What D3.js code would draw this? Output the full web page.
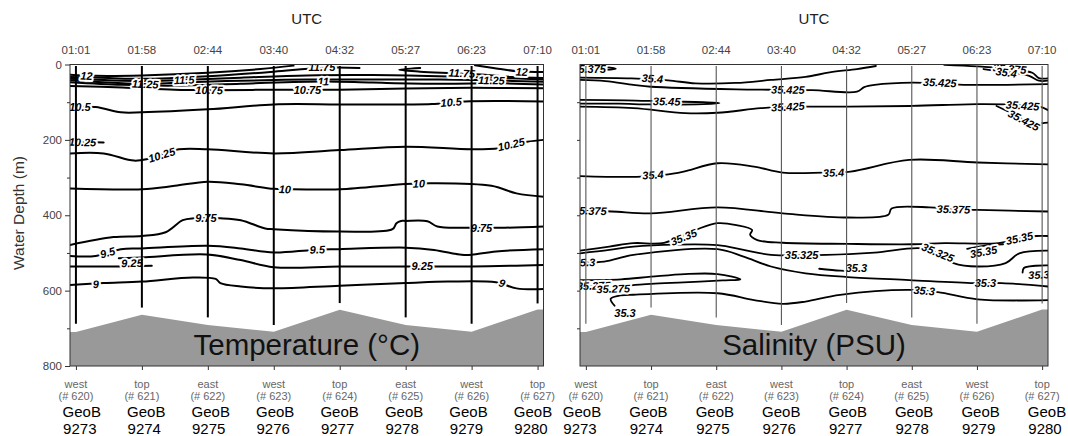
<!DOCTYPE html>
<html>
<head>
<meta charset="utf-8">
<script src="https://cdn.jsdelivr.net/npm/d3@7"></script>
<style>
  body { margin: 0; background: #fff; }
  svg { display: block; font-family: "Liberation Sans", Arial, sans-serif; }
  .iso { fill: none; stroke: #000; stroke-linejoin: round; stroke-linecap: round; }
  .lab { font-style: italic; font-weight: bold; font-size: 11px; fill: #000;
         paint-order: stroke; stroke: #fff; stroke-width: 4px; stroke-linejoin: round; }
  .axis path, .axis line { stroke: #333; }
  .axis text { fill: #444; font-size: 11.5px; font-family: "Liberation Sans", Arial, sans-serif; }
</style>
</head>
<body>
<div id="chart"></div>
<script>
//----------------------------DATA------------------------------//
const utcTimes = ["01:01", "01:58", "02:44", "03:40", "04:32", "05:27", "06:23", "07:10"];
const stationSide = ["west", "top", "east", "west", "top", "east", "west", "top"];
const castNumbers = ["620", "621", "622", "623", "624", "625", "626", "627"];
const geobNumbers = ["9273", "9274", "9275", "9276", "9277", "9278", "9279", "9280"];
const seafloorDepth = [710, 664, 691, 709, 651, 691, 709, 650];
const castDepth = [688, 645, 671, 691, 633, 671, 688, 634];
const depthMajor = [0, 200, 400, 600, 800];
const depthMinor = [100, 300, 500, 700];

// isolines: [value, [[station index, depth m], ...]]
const tempIsolines = [
  [12, [[-0.09, 27], [0.3, 30], [1, 29], [2, 22], [2.8, 12], [3.3, 3]]],
  [12, [[6.05, 2], [6.4, 11], [6.7, 18], [7.09, 20]]],
  [11.75, [[-0.09, 33], [0.5, 36], [1, 38], [2, 31], [3, 19], [3.7, 9], [4.3, 9]]],
  [11.75, [[5.22, 9], [4.9, 14], [5.22, 19], [5.7, 23], [6.2, 27], [6.6, 33], [7.09, 36]]],
  [11.5, [[-0.09, 38], [1, 44], [1.6, 41], [2.5, 35], [3.5, 29], [4.5, 28], [5.5, 31], [6.5, 36], [7.09, 40]]],
  [11.25, [[-0.09, 42], [0.5, 48], [1.05, 52], [1.6, 48], [2.5, 43], [3.5, 40], [4.5, 40], [5.5, 40], [6.3, 42], [7.09, 46]]],
  [11, [[-0.09, 47], [0.7, 54], [1.5, 56], [2.5, 51], [3.75, 45], [4.5, 48], [5.5, 51], [6.5, 50], [7.09, 53]]],
  [10.75, [[-0.09, 57], [0.7, 61], [1.5, 67], [2.02, 68], [3, 67], [4, 67], [5, 64], [6, 62], [7.09, 63]]],
  [10.5, [[-0.09, 113], [0.3, 113], [0.68, 127], [1, 127], [2, 119], [3, 106], [4, 106], [5, 106], [5.4, 105], [5.9, 98], [7.09, 98]]],
  [10.25, [[-0.09, 205], [0.2, 206], [0.42, 207]]],
  [10.25, [[-0.09, 236], [0.42, 236], [0.88, 255], [1.1, 250], [1.56, 225], [2, 225], [3, 236], [4, 227], [5, 218], [6, 225], [6.42, 222], [6.84, 205], [7.09, 200]]],
  [10, [[-0.09, 329], [1, 331], [1.5, 322], [2, 311], [2.5, 318], [3, 330], [3.2, 331], [4, 331], [5, 317], [5.4, 315], [6.3, 322], [6.68, 342], [7.09, 351]]],
  [9.75, [[-0.09, 479], [0.57, 458], [1, 455], [1.36, 445], [1.62, 413], [1.8, 408], [2.19, 408], [2.5, 413], [2.87, 435], [3, 437], [4, 443], [4.8, 437], [4.86, 421], [4.93, 415], [5, 415], [5.33, 416], [5.48, 430], [6, 433], [6.5, 433], [7.09, 430]]],
  [9.5, [[-0.09, 508], [0.3, 508], [0.68, 490], [1, 488], [2, 481], [2.5, 488], [3, 499], [3.6, 492], [4, 490], [5, 486], [5.43, 492], [5.85, 505], [6, 505], [6.37, 496], [7.09, 490]]],
  [9.25, [[-0.09, 536], [0.6, 536], [1.15, 534]]],
  [9.25, [[0.65, 514], [1, 512], [1.98, 504], [2.5, 519], [3, 538], [4, 536], [5, 536], [6, 536], [7.09, 532]]],
  [9, [[-0.09, 585], [0.42, 580], [1, 576], [1.77, 565], [2.12, 569], [2.19, 580], [2.5, 589], [3, 594], [4, 587], [5, 580], [5.64, 576], [6.37, 578], [6.68, 594], [7.09, 596]]]
];
// labels: [text, station index, depth m]
const tempLabels = [
  ["12", 0.16, 30], ["12", 6.76, 19], ["11.75", 3.73, 8], ["11.75", 5.85, 23],
  ["11.5", 1.64, 41], ["11.25", 1.05, 52], ["11.25", 6.3, 42], ["11", 3.75, 45],
  ["10.75", 2.02, 68], ["10.75", 3.51, 67], ["10.5", 0.06, 113], ["10.5", 5.69, 100],
  ["10.25", 0.1, 206], ["10.25", 1.3, 240], ["10.25", 6.6, 212],
  ["10", 3.17, 331], ["10", 5.2, 316], ["9.75", 1.97, 408], ["9.75", 6.15, 433],
  ["9.5", 0.48, 499], ["9.5", 3.66, 491], ["9.25", 0.85, 527], ["9.25", 5.25, 536],
  ["9", 0.3, 583], ["9", 6.46, 580]
];

const salIsolines = [
  [35.375, [[-0.09, 5], [0.3, 7], [0.46, 11], [0.3, 14], [-0.09, 14]]],
  [35.4, [[-0.09, 35], [0.7, 37], [1.26, 42], [1.68, 50], [2.3, 49], [2.84, 41], [3.37, 33], [3.74, 21], [4.16, 12], [4.45, 4]]],
  [35.375, [[5.5, 1], [6, 5], [6.5, 12], [6.85, 22], [6.95, 36], [7.09, 37]]],
  [35.4, [[6.1, 12], [6.45, 20], [6.8, 30], [6.95, 43], [7.09, 43]]],
  [35.425, [[-0.09, 41], [0.3, 44], [0.73, 54], [1, 59], [2.31, 66], [2.84, 67], [3.47, 68], [4.16, 72], [4.27, 60], [4.43, 54], [5.02, 48], [5.8, 54], [7.09, 52]]],
  [35.45, [[-0.09, 94], [0.6, 95], [1.24, 98], [1.8, 100], [2.05, 102], [1.8, 105], [1, 106], [0.5, 104], [-0.09, 104]]],
  [35.425, [[-0.09, 112], [0.73, 116], [1.52, 129], [2.02, 128], [2.68, 116], [3.1, 112], [4.02, 112], [5, 110], [6.01, 105], [6.44, 106], [6.96, 112], [7.09, 121]]],
  [35.425, [[6.3, 110], [6.6, 135], [6.9, 162], [7, 156], [7.09, 154]]],
  [35.4, [[-0.09, 296], [0.78, 298], [1.2, 293], [1.5, 284], [2.02, 262], [2.58, 271], [3.02, 287], [3.63, 287], [4.06, 284], [4.96, 253], [6.01, 260], [7.09, 265]]],
  [35.375, [[-0.09, 388], [0.4, 390], [1, 395], [2.02, 379], [3.02, 395], [4.02, 406], [4.64, 399], [4.69, 382], [5.27, 379], [5.6, 384], [6.01, 386], [7.09, 390]]],
  [35.35, [[-0.09, 494], [0.36, 483], [0.73, 474], [1.2, 473], [1.68, 439], [2.02, 421], [2.31, 426], [2.55, 439], [2.52, 452], [2.63, 466], [3.02, 473], [4.02, 476], [5.02, 477], [5.5, 474], [6.33, 474], [6.65, 462], [6.91, 455], [7.09, 455]]],
  [35.35, [[5.85, 489], [6.1, 481], [6.4, 477]]],
  [35.325, [[-0.09, 501], [0.36, 492], [0.73, 483], [2.02, 479], [2.42, 492], [2.84, 505], [3.69, 505], [4.43, 499], [5.17, 488], [5.48, 510], [5.64, 527], [6.01, 536], [6.44, 527], [6.65, 501], [7.09, 494]]],
  [35.3, [[-0.09, 525], [0.28, 523], [0.73, 505], [2.02, 490], [2.42, 510], [2.84, 536], [3.37, 554], [4.02, 564], [4.96, 572], [5.96, 580], [6.38, 580], [7.09, 589]]],
  [35.3, [[3.58, 542], [3.9, 547], [4.05, 548]]],
  [35.3, [[6.7, 552], [6.72, 540], [6.9, 534], [7.09, 533]]],
  [35.275, [[-0.09, 572], [0.54, 570], [1, 563], [1.52, 556], [2.02, 556], [2.37, 570], [2.1, 573], [1.5, 578], [1, 582], [0.6, 587], [-0.09, 590]]],
  [35.3, [[0.44, 640], [0.38, 622], [0.5, 614], [0.73, 611], [2.02, 607], [2.58, 625], [3.02, 635], [3.37, 629], [3.9, 611], [4.96, 598], [5.4, 604], [6.01, 623], [7.09, 625]]]
];
const salLabels = [
  ["35.375", 0.05, 11], ["35.4", 1.02, 37], ["35.425", 3.1, 67], ["35.425", 5.43, 48],
  ["35.375", 6.5, 11], ["35.4", 6.45, 21], ["35.45", 1.24, 98], ["35.425", 3.1, 112],
  ["35.425", 6.7, 109], ["35.425", 6.72, 148], ["35.4", 1.03, 293], ["35.4", 3.8, 287],
  ["35.375", 0.06, 388], ["35.375", 5.64, 384], ["35.35", 1.5, 458], ["35.35", 6.65, 461],
  ["35.35", 6.1, 497], ["35.325", 3.31, 505], ["35.325", 5.4, 499], ["35.3", -0.02, 525],
  ["35.3", 6.13, 580], ["35.3", 4.15, 540], ["35.3", 6.95, 558], ["35.275", 0.12, 587],
  ["35.275", 0.42, 595], ["35.3", 5.19, 600], ["35.3", 0.6, 660]
];

//----------------------------SETUP-----------------------------//
const width = 1068, height = 436;
const svg = d3.select("#chart").append("svg")
    .attr("width", width)
    .attr("height", height);

const yScale = d3.scaleLinear().domain([0, 800]).range([64.5, 366]);
const stationIdx = d3.range(8);

const panels = [
  { key: "temp", range: [70, 543.5], idRange: [81.8, 533], iso: tempIsolines, labels: tempLabels,
    title: "Temperature (°C)", castColor: "#000", castWidth: 2, isoWidth: 2, depthLabels: true },
  { key: "sal", range: [580, 1048], idRange: [582, 1047], iso: salIsolines, labels: salLabels,
    title: "Salinity (PSU)", castColor: "#555", castWidth: 1.1, isoWidth: 1.8, depthLabels: false }
];

// pick the local direction of the isoline nearest the label
function labelAngle(iso, xScale, text, s, d) {
  const v = +text;
  let best = null, bestDist = Infinity;
  iso.forEach(function (line) {
    if (line[0] !== v) return;
    const pts = line[1];
    for (let i = 0; i < pts.length - 1; i++) {
      const a = pts[i], b = pts[i + 1];
      if (a[0] === b[0] || (s - a[0]) * (s - b[0]) > 0) continue;
      const t = (s - a[0]) / (b[0] - a[0]);
      const dd = Math.abs(a[1] + t * (b[1] - a[1]) - d);
      if (dd < bestDist) { bestDist = dd; best = [a, b]; }
    }
  });
  if (!best || bestDist > 25) return 0;
  let ang = Math.atan2(yScale(best[1][1]) - yScale(best[0][1]),
                       xScale(best[1][0]) - xScale(best[0][0])) * 180 / Math.PI;
  if (ang > 90) ang -= 180;
  if (ang < -90) ang += 180;
  return Math.max(-45, Math.min(45, ang));
}

panels.forEach(function (p, pi) {
  const xScale = d3.scaleLinear().domain([-0.09, 7.09]).range(p.range);
  const idScale = d3.scaleLinear().domain([0, 7]).range(p.idRange);
  const x0 = p.range[0], x1 = p.range[1];
  const y0 = yScale(0), y1 = yScale(800);
  const cx = (x0 + x1) / 2;
  const g = svg.append("g");

  g.append("clipPath").attr("id", "clip-" + p.key)
    .append("rect").attr("x", x0).attr("y", y0).attr("width", x1 - x0).attr("height", y1 - y0);

  // seafloor
  const floorPts = [[-0.09, seafloorDepth[0]]]
      .concat(stationIdx.map(function (i) { return [i, seafloorDepth[i]]; }))
      .concat([[7.09, seafloorDepth[7]]]);
  g.append("path")
    .datum(floorPts)
    .attr("fill", "#999")
    .attr("d", d3.area()
      .x(function (d) { return xScale(d[0]); })
      .y0(yScale(800))
      .y1(function (d) { return yScale(d[1]); }));

  // isolines
  const plot = g.append("g").attr("clip-path", "url(#clip-" + p.key + ")");
  const line = d3.line()
      .x(function (d) { return xScale(d[0]); })
      .y(function (d) { return yScale(d[1]); })
      .curve(d3.curveCatmullRom.alpha(0.5));
  plot.selectAll("path.iso")
    .data(p.iso)
    .enter()
    .append("path")
    .attr("class", "iso")
    .attr("stroke-width", p.isoWidth)
    .attr("d", function (d) { return line(d[1]); });

  plot.selectAll("text.lab")
    .data(p.labels)
    .enter()
    .append("text")
    .attr("class", "lab")
    .attr("text-anchor", "middle")
    .attr("dy", "0.36em")
    .attr("transform", function (d) {
      return "translate(" + xScale(d[1]) + "," + yScale(d[2]) + ") rotate(" +
        labelAngle(p.iso, xScale, d[0], d[1], d[2]) + ")";
    })
    .text(function (d) { return d[0]; });

  // CTD casts
  g.selectAll("line.cast")
    .data(stationIdx)
    .enter()
    .append("line")
    .attr("class", "cast")
    .attr("x1", function (i) { return xScale(i); })
    .attr("x2", function (i) { return xScale(i); })
    .attr("y1", yScale(4))
    .attr("y2", function (i) { return yScale(castDepth[i]); })
    .attr("stroke", p.castColor)
    .attr("stroke-width", p.castWidth);

  // panel title
  g.append("text")
    .attr("x", cx)
    .attr("y", 355)
    .attr("text-anchor", "middle")
    .style("font-size", "29.5px")
    .style("fill", "#111")
    .text(p.title);

  // frame
  g.append("rect")
    .attr("x", x0).attr("y", y0)
    .attr("width", x1 - x0).attr("height", y1 - y0)
    .attr("fill", "none")
    .attr("stroke", "#333")
    .attr("stroke-width", 1);

  // depth axis
  if (p.depthLabels) {
    g.append("g")
      .attr("class", "axis")
      .attr("transform", "translate(" + x0 + ",0)")
      .call(d3.axisLeft(yScale).tickValues(depthMajor).tickSize(5).tickSizeOuter(0).tickPadding(3))
      .call(function (a) { a.select(".domain").remove(); });
    g.append("g")
      .attr("class", "axis")
      .attr("transform", "translate(" + x0 + ",0)")
      .call(d3.axisLeft(yScale).tickValues(depthMinor).tickSize(3).tickFormat(""))
      .call(function (a) { a.select(".domain").remove(); });
  } else {
    g.append("g")
      .attr("class", "axis")
      .attr("transform", "translate(" + x0 + ",0)")
      .call(d3.axisLeft(yScale).tickValues(depthMinor.concat([200, 400, 600])).tickSize(3).tickFormat(""))
      .call(function (a) { a.select(".domain").remove(); });
  }

  // station axis (bottom)
  g.append("g")
    .attr("class", "axis")
    .attr("transform", "translate(0," + y1 + ")")
    .call(d3.axisBottom(xScale).tickValues(stationIdx).tickSize(4).tickFormat(""))
    .call(function (a) { a.select(".domain").remove(); });

  // UTC time labels
  g.append("text")
    .attr("x", cx).attr("y", 24)
    .attr("text-anchor", "middle")
    .style("font-size", "15px")
    .style("fill", "#222")
    .text("UTC");
  g.selectAll("text.utc")
    .data(stationIdx)
    .enter()
    .append("text")
    .attr("class", "utc")
    .attr("x", function (i) { return xScale(i); })
    .attr("y", 54)
    .attr("text-anchor", "middle")
    .style("font-size", "11.5px")
    .style("fill", "#444")
    .text(function (i) { return utcTimes[i]; });

  // station labels
  const st = g.selectAll("g.station")
    .data(stationIdx)
    .enter()
    .append("g")
    .attr("class", "station");
  st.append("text")
    .attr("x", function (i) { return xScale(i); })
    .attr("y", 388)
    .attr("text-anchor", "middle")
    .style("font-size", "11px")
    .style("fill", "#666")
    .text(function (i) { return stationSide[i]; });
  st.append("text")
    .attr("x", function (i) { return xScale(i); })
    .attr("y", 399.5)
    .attr("text-anchor", "middle")
    .style("font-size", "11px")
    .style("fill", "#666")
    .text(function (i) { return "(# " + castNumbers[i] + ")"; });
  st.append("text")
    .attr("x", function (i) { return idScale(i); })
    .attr("y", 417)
    .attr("text-anchor", "middle")
    .style("font-size", "15px")
    .style("fill", "#000")
    .text("GeoB");
  st.append("text")
    .attr("x", function (i) { return idScale(i) - 2; })
    .attr("y", 434)
    .attr("text-anchor", "middle")
    .style("font-size", "15px")
    .style("fill", "#000")
    .text(function (i) { return geobNumbers[i]; });
});

// depth axis title
svg.append("text")
  .attr("transform", "translate(24,213) rotate(-90)")
  .attr("text-anchor", "middle")
  .style("font-size", "15.5px")
  .style("fill", "#333")
  .text("Water Depth (m)");
</script>
</body>
</html>
